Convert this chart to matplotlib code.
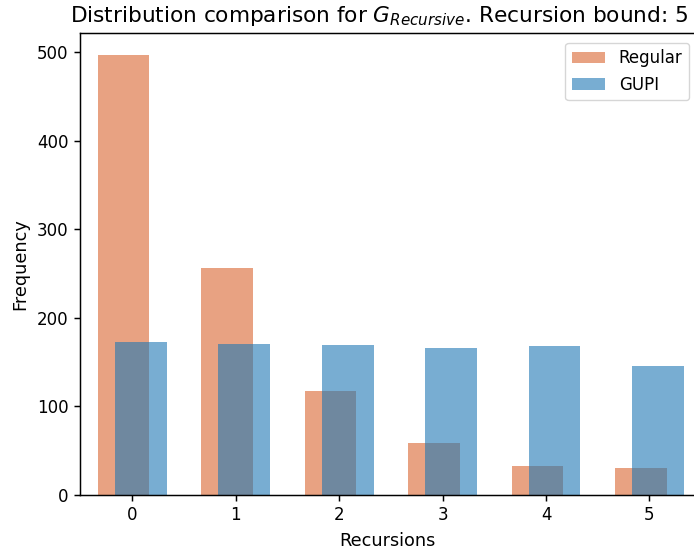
import numpy as np
import matplotlib
matplotlib.use("Agg")
import matplotlib.pyplot as plt

recursions = [0, 1, 2, 3, 4, 5]
regular = [497, 256, 118, 59, 33, 31]
gupi = [173, 171, 170, 166, 168, 146]

s = 1.33
plt.rcParams.update({
    "font.size": 12,
    "xtick.labelsize": 12,
    "ytick.labelsize": 12,
    "axes.labelsize": 12.7,
    "legend.fontsize": 12,
    "axes.linewidth": 0.8 * s,
    "xtick.major.width": 0.8 * s,
    "ytick.major.width": 0.8 * s,
    "xtick.major.size": 3.5 * s,
    "ytick.major.size": 3.5 * s,
})

fig = plt.figure(figsize=(6.94, 5.54), dpi=100)
ax = fig.add_axes([80 / 694, 1 - 495 / 554, 615 / 694, (495 - 33) / 554])

x = np.array(recursions, dtype=float)
offset = 1 / 12
ax.bar(x - offset, regular, width=0.5, color="#E8A282", label="Regular")
ax.bar(x + offset, gupi, width=0.5, color="#1f77b4", alpha=0.6, label="GUPI")

ax.set_xlim(-0.504, 5.44)
ax.set_ylim(0, 522)
ax.set_xticks(recursions)
ax.set_yticks([0, 100, 200, 300, 400, 500])
ax.set_xlabel("Recursions", labelpad=4 * s)
ax.set_ylabel("Frequency", labelpad=4 * s)
ax.set_title(r"Distribution comparison for $G_{Recursive}$. Recursion bound: 5",
             fontsize=15.6, pad=6 * s, x=(379.5 - 80) / 615)
ax.legend(loc="upper right", bbox_to_anchor=(1.004, 0.997))

fig.savefig("out.png", dpi=100)
